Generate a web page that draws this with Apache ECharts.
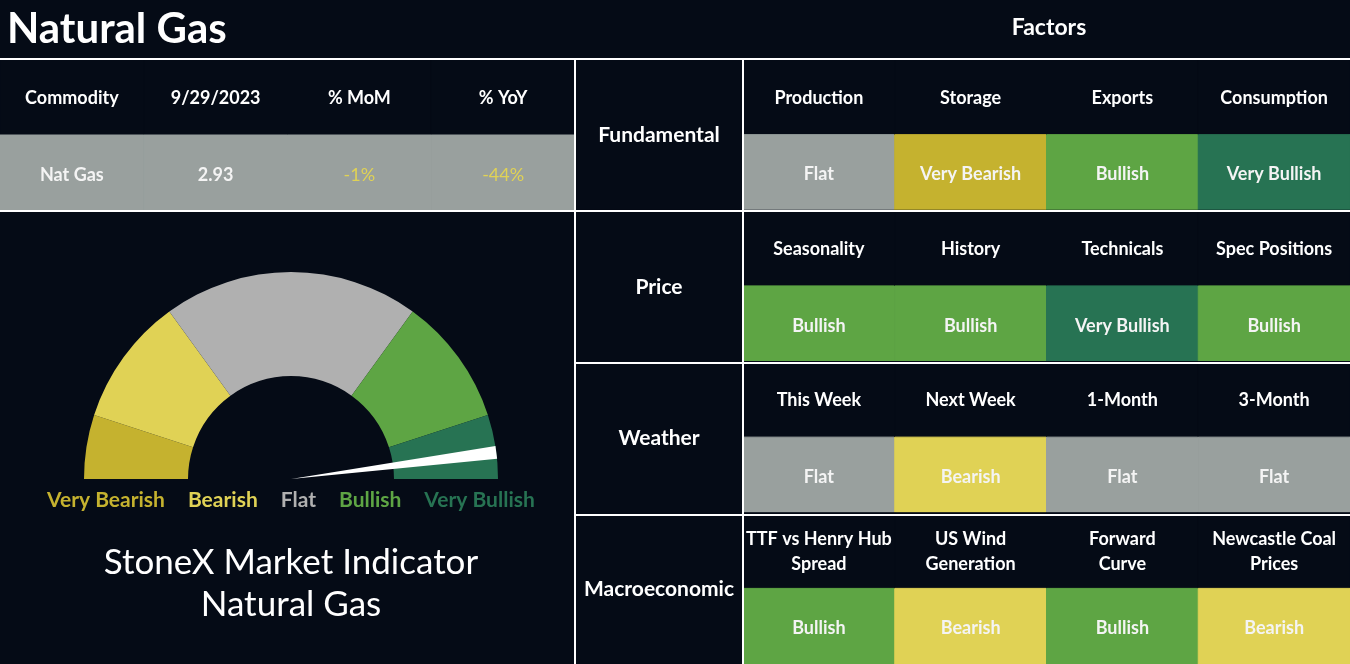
<!DOCTYPE html>
<html>
<head>
<meta charset="utf-8">
<script src="https://cdn.jsdelivr.net/npm/echarts@6/dist/echarts.min.js"></script>
<style>
html,body{margin:0;padding:0;background:#050B16;}
#c{width:1350px;height:664px;}
</style>
</head>
<body>
<div id="c"></div>
<script>
// ---------- data ----------
const TABLE_HEADERS = ['Commodity', '9/29/2023', '% MoM', '% YoY'];
const TABLE_ROW = ['Nat Gas', '2.93', '-1%', '-44%'];
const GROUPS = ['Fundamental', 'Price', 'Weather', 'Macroeconomic'];
const FACTORS = [
  ['Production', 'Storage', 'Exports', 'Consumption'],
  ['Seasonality', 'History', 'Technicals', 'Spec Positions'],
  ['This Week', 'Next Week', '1-Month', '3-Month'],
  ['TTF vs Henry Hub\nSpread', 'US Wind\nGeneration', 'Forward\nCurve', 'Newcastle Coal\nPrices']
];
const SIGNALS = [
  ['Flat', 'Very Bearish', 'Bullish', 'Very Bullish'],
  ['Bullish', 'Bullish', 'Very Bullish', 'Bullish'],
  ['Flat', 'Bearish', 'Flat', 'Flat'],
  ['Bullish', 'Bearish', 'Bullish', 'Bearish']
];
const SCALE = ['Very Bearish', 'Bearish', 'Flat', 'Bullish', 'Very Bullish'];
const SCALE_SHARE = [10, 20, 40, 20, 10];
const INDICATOR_VALUE = 95.9; // needle position on a 0-100 scale

// ---------- styles ----------
const BG = '#050B16';
const FONT = 'Lato';
const CELL_COLORS = {
  'Very Bearish': '#C5B22F', 'Bearish': '#E0D255', 'Flat': '#99A09E',
  'Bullish': '#5EA544', 'Very Bullish': '#277353'
};
const GAUGE_COLORS = ['#C5B22F', '#E0D255', '#B0B0B0', '#5EA544', '#277353'];
const ROW_GRAY = '#99A09E';
const NEG_COLOR = '#E0D255';

// ---------- cells ----------
const tableCells = [];
TABLE_HEADERS.forEach((h, c) => {
  tableCells.push({col: c, row: 0, text: h, fill: BG, color: '#ffffff', weight: 'bold', size: 18, dy: 1});
});
TABLE_ROW.forEach((v, c) => {
  const neg = c >= 2 && v.charAt(0) === '-';
  tableCells.push({col: c, row: 1, text: v, fill: ROW_GRAY, color: neg ? NEG_COLOR : '#F4F4F4', weight: neg ? 'normal' : 'bold', size: 18, dy: 2});
});

const groupCells = GROUPS.map((g, r) => ({col: 0, row: r, text: g, fill: BG, color: '#ffffff', weight: 'bold', size: 21, dy: 1}));

const factorCells = [];
FACTORS.forEach((names, g) => {
  names.forEach((n, c) => {
    factorCells.push({col: c, row: 2 * g, text: n, fill: BG, color: '#ffffff', weight: 'bold', size: 18, lh: 25, dy: 1});
    const s = SIGNALS[g][c];
    factorCells.push({col: c, row: 2 * g + 1, text: s, fill: CELL_COLORS[s], color: '#F4F4F4', weight: 'bold', size: 18, dy: 2});
  });
});

function makeRender(cells) {
  return function (params, api) {
    const cell = cells[params.dataIndex];
    const center = api.coord([api.value(0), api.value(1)]);
    const size = api.size([1, 1]);
    return {
      type: 'rect',
      shape: {x: center[0] - size[0] / 2, y: center[1] - size[1] / 2, width: size[0], height: size[1]},
      style: {fill: cell.fill, stroke: cell.fill, lineWidth: 1},
      textContent: {
        type: 'text',
        style: {
          text: cell.text, fill: cell.color, fontSize: cell.size, fontWeight: cell.weight,
          fontFamily: FONT, align: 'center', verticalAlign: 'middle', lineHeight: cell.lh || cell.size * 1.3
        }
      },
      textConfig: {position: 'inside', offset: [0, cell.dy]}
    };
  };
}

function idx(n) { return Array.from({length: n}, (_, i) => String(i)); }
function hiddenCat(gridIndex, n, inverse) {
  return {type: 'category', gridIndex, data: idx(n), inverse: !!inverse, show: false,
    axisLine: {show: false}, axisTick: {show: false}, axisLabel: {show: false}, splitLine: {show: false}};
}

// ---------- layout ----------
const TOP = 59;
const lines = [
  [0, TOP, 1350, TOP],
  [0, TOP + 152, 1350, TOP + 152],
  [575, TOP + 304, 1350, TOP + 304],
  [575, TOP + 456, 1350, TOP + 456],
  [575, TOP, 575, 664],
  [743, TOP, 743, 664]
];

const chart = echarts.init(document.getElementById('c'));
chart.setOption({
  backgroundColor: BG,
  animation: false,
  textStyle: {fontFamily: FONT},
  grid: [
    {left: 0, top: TOP, width: 575, height: 152},
    {left: 575, top: TOP, width: 168, height: 608},
    {left: 743, top: TOP, width: 607, height: 608}
  ],
  xAxis: [hiddenCat(0, 4), hiddenCat(1, 1), hiddenCat(2, 4)],
  yAxis: [hiddenCat(0, 2, true), hiddenCat(1, 4, true), hiddenCat(2, 8, true)],
  legend: {
    data: SCALE.map((n, i) => ({name: n, textStyle: {color: GAUGE_COLORS[i]}})),
    selectedMode: false,
    left: 42, top: 490, padding: 0,
    itemWidth: 0, itemHeight: 0, itemGap: 18, icon: 'rect',
    textStyle: {fontSize: 21, fontWeight: 'bold', fontFamily: FONT}
  },
  series: [
    {type: 'custom', xAxisIndex: 0, yAxisIndex: 0, silent: true,
      data: tableCells.map(c => [c.col, c.row]), renderItem: makeRender(tableCells)},
    {type: 'custom', xAxisIndex: 1, yAxisIndex: 1, silent: true,
      data: groupCells.map(c => [c.col, c.row]), renderItem: makeRender(groupCells)},
    {type: 'custom', xAxisIndex: 2, yAxisIndex: 2, silent: true,
      data: factorCells.map(c => [c.col, c.row]), renderItem: makeRender(factorCells)},
    {
      type: 'pie', center: [291, 479], radius: [103, 207], startAngle: 180, clockwise: true,
      silent: true, label: {show: false}, labelLine: {show: false},
      data: SCALE.map((n, i) => ({name: n, value: SCALE_SHARE[i], itemStyle: {color: GAUGE_COLORS[i]}}))
        .concat([{name: '_rest', value: SCALE_SHARE.reduce((a, b) => a + b, 0), itemStyle: {color: 'rgba(0,0,0,0)'}}])
    },
    {
      type: 'gauge', center: [291, 479], radius: 207, startAngle: 180, endAngle: 0,
      min: 0, max: 100, silent: true, z: 5,
      axisLine: {show: false}, splitLine: {show: false}, axisTick: {show: false}, axisLabel: {show: false},
      pointer: {icon: 'path://M0 0L2 0L1 40Z', length: '100%', width: 13, keepAspect: false, itemStyle: {color: '#ffffff'}},
      anchor: {show: false}, title: {show: false}, detail: {show: false},
      data: [{value: INDICATOR_VALUE}]
    }
  ],
  graphic: lines.map(l => ({
    type: 'line', z: 100, silent: true,
    shape: {x1: l[0], y1: l[1], x2: l[2], y2: l[3]},
    style: {stroke: '#ffffff', lineWidth: 2}
  })).concat([
    {type: 'text', z: 100, x: 7, y: 29, silent: true,
      style: {text: 'Natural Gas', fill: '#ffffff', fontSize: 42, fontWeight: 'bold', fontFamily: FONT, align: 'left', verticalAlign: 'middle'}},
    {type: 'text', z: 100, x: 1049, y: 28, silent: true,
      style: {text: 'Factors', fill: '#ffffff', fontSize: 23, fontWeight: 'bold', fontFamily: FONT, align: 'center', verticalAlign: 'middle'}},
    {type: 'text', z: 100, x: 291, y: 584, silent: true,
      style: {text: 'StoneX Market Indicator\nNatural Gas', fill: '#ffffff', fontSize: 35, lineHeight: 42, fontFamily: FONT, align: 'center', verticalAlign: 'middle'}}
  ])
});
</script>
</body>
</html>
